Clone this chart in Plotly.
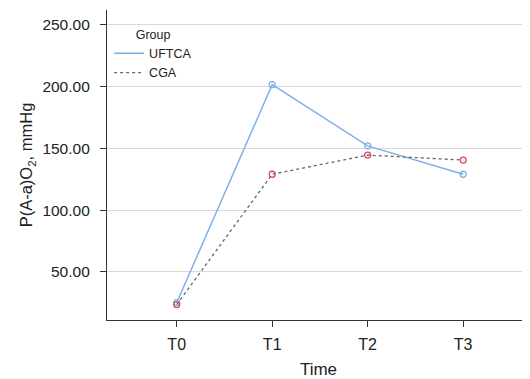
import plotly.graph_objects as go

times = ["T0", "T1", "T2", "T3"]
uftca = [25.0, 201.5, 152.0, 129.0]
cga = [23.5, 129.0, 144.5, 140.5]
yticks = [50, 100, 150, 200, 250]

blue = "#7eb0ea"
gray = "#666666"
red = "#d9466b"

fig = go.Figure()
fig.add_trace(go.Scatter(
    x=[0, 1, 2, 3], y=uftca, name="UFTCA", mode="lines+markers", showlegend=False,
    line=dict(color=blue, width=1.5),
    marker=dict(symbol="circle-open", size=6, color=blue, line=dict(width=1.3)),
))
fig.add_trace(go.Scatter(
    x=[0, 1, 2, 3], y=cga, name="CGA", mode="lines+markers", showlegend=False,
    line=dict(color=gray, width=1.3, dash="dot"),
    marker=dict(symbol="circle-open", size=6, color=red, line=dict(width=1.3)),
))
# legend entries (lines only, as in the reference)
fig.add_trace(go.Scatter(x=[None], y=[None], name="UFTCA", mode="lines",
                         line=dict(color=blue, width=1.5)))
fig.add_trace(go.Scatter(x=[None], y=[None], name="CGA", mode="lines",
                         line=dict(color=gray, width=1.3, dash="dot")))

# page body has an 8px margin, so the figure is sized/offset to compensate
fig.update_layout(
    width=522, height=371,
    margin=dict(l=99, r=0, t=2, b=59),
    plot_bgcolor="white", paper_bgcolor="white",
    font=dict(family="Liberation Sans, Arial, sans-serif", size=13, color="#222222"),
    showlegend=True,
    legend=dict(
        title=dict(text="Group", font=dict(size=12.5), side="top center"),
        font=dict(size=12.5), x=0.005, y=0.96, xanchor="left", yanchor="top",
        bgcolor="rgba(0,0,0,0)", tracegroupgap=0, itemwidth=30,
    ),
    xaxis=dict(
        range=[-0.73, 3.7], tickmode="array", tickvals=[0, 1, 2, 3], ticktext=times,
        showgrid=False, zeroline=False, showline=True, linecolor="#333333", linewidth=1.2,
        ticks="outside", ticklen=6, tickcolor="#333333", ticklabelstandoff=4,
        title=dict(text="Time", font=dict(size=17), standoff=11),
        tickfont=dict(size=16), automargin=False,
    ),
    yaxis=dict(
        range=[11, 262], tickmode="array", tickvals=yticks,
        ticktext=[f"{v:.2f}" for v in yticks],
        showgrid=True, gridcolor="#d9d9d9", gridwidth=1.2, zeroline=False,
        showline=True, linecolor="#333333", linewidth=1.2,
        ticks="outside", ticklen=6, tickcolor="#333333", ticklabelstandoff=7,
        title=dict(text="P(A-a)O<sub>2</sub>, mmHg", font=dict(size=16.5), standoff=5),
        tickfont=dict(size=15.5), automargin=False,
    ),
)

fig.write_html("out.html")
